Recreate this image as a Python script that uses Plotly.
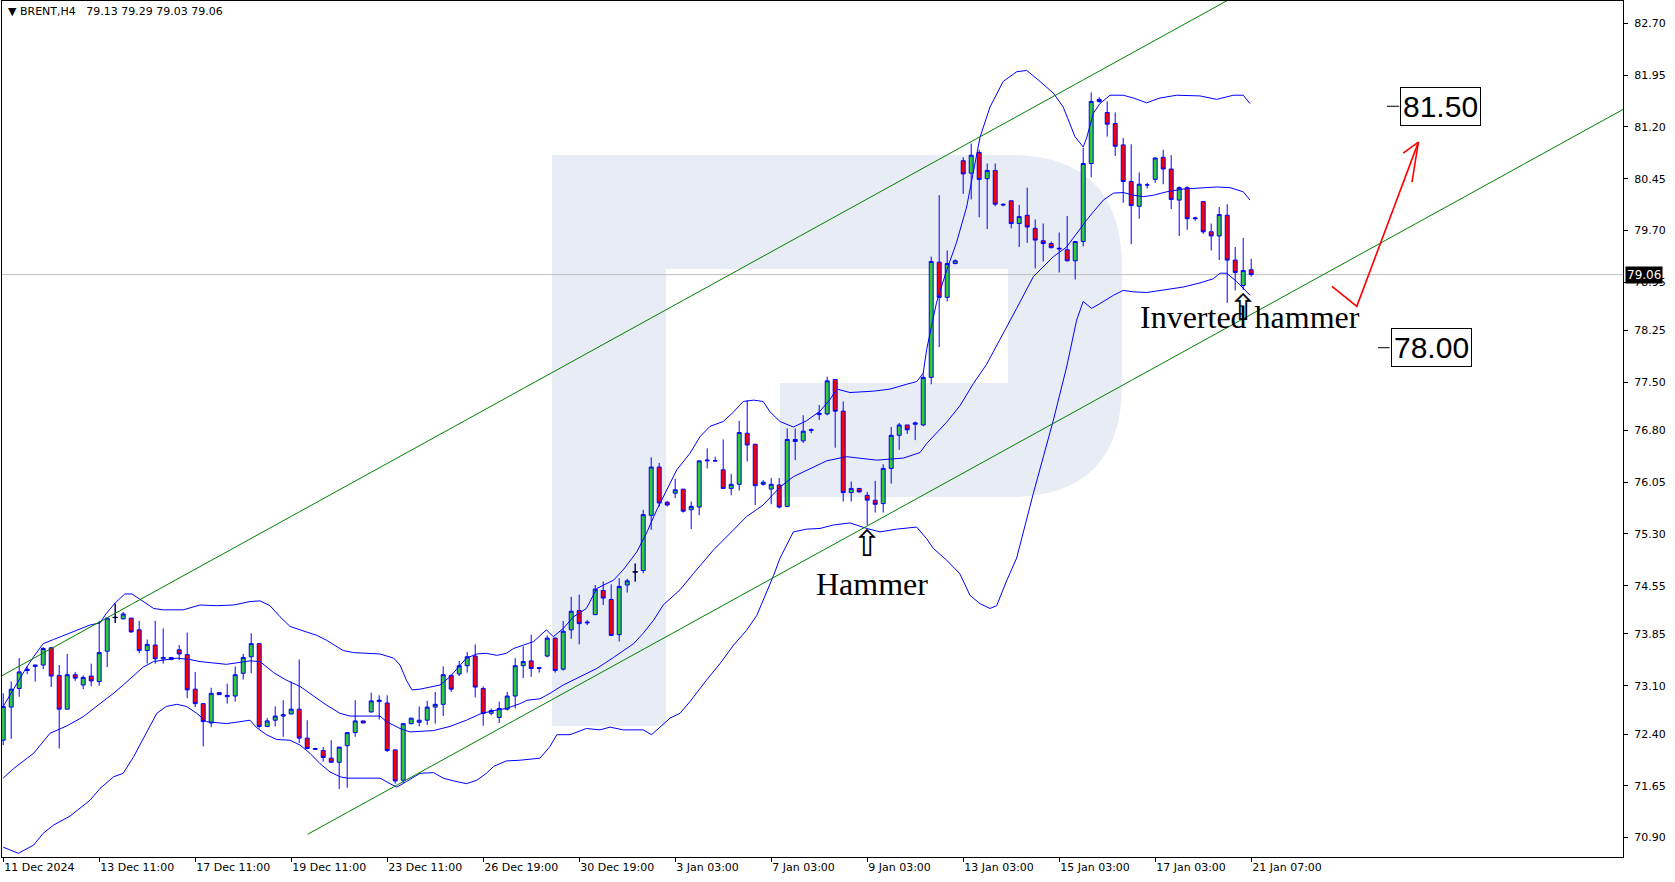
import plotly.graph_objects as go

# ---------------- data (BRENT, H4) ----------------
opens = [72.31, 72.79, 73.06, 73.32, 73.38, 73.40, 73.65, 73.25, 72.76, 73.26,
         73.11, 73.24, 73.16, 73.60, 74.09, 74.07, 74.08, 73.91, 73.61, 73.69,
         73.49, 73.51, 73.62, 73.55, 73.05, 72.84, 72.56, 73.00, 72.94, 72.95,
         73.28, 73.52, 73.71, 72.51, 72.60, 72.66, 72.69, 72.76, 72.34, 72.19,
         72.16, 72.05, 71.99, 72.23, 72.42, 72.59, 72.72, 72.87, 72.85, 72.17,
         71.73, 72.55, 72.57, 72.60, 72.79, 72.83, 73.25, 73.27, 73.39, 73.53,
         73.06, 72.70, 72.64, 72.76, 72.95, 73.39, 73.46, 73.35, 73.53, 73.79,
         73.34, 73.91, 74.19, 74.01, 74.13, 74.48, 74.35, 73.84, 74.56, 74.75,
         74.77, 75.57, 76.27, 75.76, 75.89, 75.95, 75.65, 75.69, 76.36, 76.36,
         76.23, 75.96, 76.02, 76.76, 76.60, 76.02, 75.95, 76.01, 75.70, 76.67,
         76.65, 76.80, 77.03, 77.04, 77.54, 77.08, 75.90, 75.96, 75.86, 75.79,
         75.74, 76.25, 76.73, 76.88, 76.89, 76.88, 77.57, 79.24, 78.73, 79.22,
         80.71, 80.53, 80.83, 80.45, 80.57, 80.08, 80.13, 79.80, 79.92, 79.73,
         79.55, 79.51, 79.43, 79.42, 79.26, 79.54, 80.67, 81.57, 81.41, 81.25,
         80.94, 80.41, 80.05, 80.36, 80.44, 80.76, 80.59, 80.14, 80.32, 79.87,
         80.12, 79.68, 79.62, 79.92, 79.27, 78.90, 79.13]
highs = [72.99, 73.16, 73.50, 73.38, 73.40, 73.66, 73.66, 73.40, 73.56, 73.30,
         73.25, 73.42, 74.04, 74.08, 74.29, 74.17, 74.08, 74.04, 73.77, 74.04,
         73.93, 73.51, 73.69, 73.87, 73.30, 72.84, 73.07, 73.00, 73.13, 73.38,
         73.56, 73.86, 73.71, 72.63, 72.80, 72.89, 73.16, 73.48, 72.60, 72.20,
         72.21, 72.31, 72.21, 72.42, 72.89, 72.59, 73.00, 72.96, 72.96, 72.17,
         72.56, 72.63, 72.80, 72.88, 73.01, 73.38, 73.26, 73.46, 73.59, 73.70,
         73.09, 72.77, 72.87, 73.01, 73.50, 73.67, 73.84, 73.36, 73.83, 73.80,
         74.04, 74.39, 74.42, 74.05, 74.56, 74.61, 74.57, 74.66, 74.65, 74.87,
         75.65, 76.41, 76.33, 75.78, 76.10, 75.95, 75.77, 76.36, 76.54, 76.42,
         76.67, 76.17, 76.94, 77.24, 76.60, 76.08, 76.11, 76.11, 76.83, 76.83,
         77.02, 76.83, 77.17, 77.58, 77.54, 77.22, 76.06, 75.96, 75.91, 76.07,
         76.31, 76.85, 76.91, 76.88, 76.93, 77.63, 79.32, 80.21, 79.41, 79.28,
         80.76, 80.96, 80.87, 80.67, 80.67, 80.09, 80.13, 80.07, 80.32, 79.86,
         79.80, 79.54, 79.67, 79.91, 79.54, 80.90, 81.70, 81.63, 81.57, 81.41,
         81.04, 80.95, 80.54, 80.39, 80.76, 80.87, 80.79, 80.34, 80.34, 79.90,
         80.12, 79.80, 80.04, 80.08, 79.46, 79.59, 79.29]
lows = [72.24, 72.33, 72.94, 73.27, 73.16, 73.34, 73.08, 72.19, 72.76, 73.17,
        73.05, 73.09, 73.10, 73.37, 74.01, 74.06, 73.87, 73.57, 73.42, 73.42,
        73.42, 73.47, 73.47, 72.92, 72.79, 72.22, 72.50, 72.97, 72.84, 72.87,
        73.19, 73.28, 72.48, 72.50, 72.51, 72.36, 72.69, 72.27, 72.18, 72.17,
        72.00, 71.99, 71.60, 71.62, 72.36, 72.56, 72.71, 72.61, 72.14, 71.68,
        71.69, 72.54, 72.51, 72.53, 72.55, 72.66, 73.01, 73.24, 73.29, 72.93,
        72.52, 72.67, 72.56, 72.74, 72.77, 73.21, 73.23, 73.29, 73.51, 73.29,
        73.32, 73.78, 73.70, 73.98, 74.13, 74.27, 73.82, 73.74, 74.45, 74.61,
        74.73, 75.36, 75.70, 75.70, 75.82, 75.61, 75.37, 75.57, 76.25, 76.35,
        75.96, 75.86, 75.93, 76.35, 75.72, 76.00, 75.73, 75.67, 75.69, 76.37,
        76.62, 76.76, 76.95, 77.02, 76.55, 75.77, 75.77, 75.90, 75.43, 75.61,
        75.61, 76.03, 76.52, 76.75, 76.66, 76.86, 77.47, 78.01, 78.67, 79.21,
        80.23, 80.15, 79.89, 79.72, 80.05, 80.05, 79.73, 79.46, 79.52, 79.15,
        79.25, 79.44, 79.09, 79.25, 78.99, 79.47, 80.47, 81.55, 81.06, 80.78,
        80.10, 79.50, 79.87, 80.31, 80.39, 80.37, 80.01, 79.62, 79.71, 79.84,
        79.65, 79.41, 79.27, 78.65, 78.83, 78.84, 79.03]
closes = [72.80, 73.05, 73.30, 73.34, 73.40, 73.64, 73.24, 72.76, 73.26, 73.21,
          73.22, 73.17, 73.58, 74.08, 74.09, 74.14, 73.88, 73.61, 73.70, 73.49,
          73.51, 73.48, 73.56, 73.04, 72.84, 72.58, 72.99, 72.97, 72.96, 73.26,
          73.51, 73.71, 72.51, 72.59, 72.66, 72.68, 72.76, 72.34, 72.19, 72.18,
          72.06, 71.99, 72.21, 72.42, 72.59, 72.56, 72.88, 72.89, 72.16, 71.72,
          72.55, 72.63, 72.60, 72.79, 72.83, 73.26, 73.05, 73.39, 73.52, 73.08,
          72.70, 72.74, 72.77, 72.95, 73.39, 73.45, 73.35, 73.36, 73.79, 73.32,
          73.89, 74.18, 74.00, 74.02, 74.50, 74.37, 73.83, 74.54, 74.62, 74.75,
          75.58, 76.27, 75.75, 75.72, 75.94, 75.63, 75.70, 76.36, 76.37, 76.36,
          75.96, 76.02, 76.77, 76.59, 76.00, 76.05, 76.02, 75.69, 76.67, 76.64,
          76.79, 76.81, 77.05, 77.52, 77.08, 75.90, 75.96, 75.91, 75.79, 75.73,
          76.25, 76.73, 76.88, 76.81, 76.91, 77.57, 79.25, 78.73, 79.22, 79.26,
          80.52, 80.79, 80.44, 80.57, 80.08, 80.07, 79.80, 79.90, 79.75, 79.56,
          79.51, 79.45, 79.44, 79.26, 79.54, 80.67, 81.57, 81.60, 81.24, 80.92,
          80.41, 80.06, 80.37, 80.36, 80.75, 80.59, 80.15, 80.32, 79.87, 79.88,
          79.68, 79.62, 79.93, 79.27, 79.09, 79.12, 79.06]
bar_index = list(range(len(closes)))
doji_bars = [14, 79]

# Bollinger bands: (bar, price)
upper_band = [(0, 72.80), (1.3, 73.06), (3, 73.38), (3.8, 73.52), (5, 73.71), (6.3, 73.77),
              (8.35, 73.86), (10.85, 73.98), (12.1, 74.01), (12.9, 74.15), (14, 74.30),
              (15.2, 74.43), (16.1, 74.43), (17.1, 74.35), (18.8, 74.22), (20, 74.20),
              (22.5, 74.20), (24.6, 74.27), (26.7, 74.26), (28.8, 74.27), (30.85, 74.32),
              (32.1, 74.33), (33.35, 74.26), (34.6, 74.10), (35.85, 73.96), (37.1, 73.91),
              (39.2, 73.83), (40.4, 73.76), (41.7, 73.67), (42.5, 73.61), (43.8, 73.58),
              (47.1, 73.56), (48.8, 73.50), (49.6, 73.40), (50.4, 73.18), (51.1, 73.04),
              (52.1, 73.05), (53.8, 73.09), (54.6, 73.11), (55.85, 73.23), (57.1, 73.40),
              (57.9, 73.50), (59.2, 73.56), (60.4, 73.57), (61.7, 73.54), (62.9, 73.57),
              (63.8, 73.64), (65, 73.69), (66.3, 73.74), (67.9, 73.91), (68.76, 73.81),
              (70, 73.93), (71.3, 74.10), (72.9, 74.22), (74.2, 74.51), (76.3, 74.63),
              (77.5, 74.78), (79.2, 75.04), (80.4, 75.31), (81.7, 75.65), (82.9, 75.94),
              (84.2, 76.23), (85.85, 76.47), (87.1, 76.71), (88.35, 76.86), (90, 76.93),
              (91.3, 77.07), (92.5, 77.22), (93.8, 77.24), (95, 77.22), (95.85, 77.07),
              (97.1, 76.93), (98.77, 76.85), (100.4, 76.94), (102.1, 77.08), (103.35, 77.25),
              (104.2, 77.40), (105.85, 77.35), (108.77, 77.37), (110.85, 77.40),
              (112.93, 77.47), (114.2, 77.51), (115, 77.63), (115.43, 77.97), (116.05, 78.32),
              (116.68, 78.66), (117.93, 79.12), (119.18, 79.53), (120.43, 80.04),
              (121.27, 80.56), (122.1, 81.05), (123.35, 81.49), (125, 81.86), (126.68, 82.00),
              (127.93, 82.02), (129.6, 81.86), (131.27, 81.69), (132.5, 81.49), (133.35, 81.25),
              (133.97, 81.06), (135, 80.91), (135.43, 81.04), (136.27, 81.40), (137.1, 81.54),
              (138.35, 81.66), (140, 81.66), (141.27, 81.62), (142.93, 81.55), (144.6, 81.62),
              (146.68, 81.66), (149.6, 81.65), (151.68, 81.60), (153.77, 81.66), (155, 81.66),
              (155.85, 81.54)]
middle_band = [(0, 71.76), (1.3, 71.90), (3.8, 72.12), (5.85, 72.41), (8, 72.52), (10, 72.65),
               (12.1, 72.84), (13.8, 72.99), (15, 73.11), (16.3, 73.25), (17.5, 73.37),
               (18.8, 73.45), (20, 73.47), (21.7, 73.50), (23.3, 73.48), (24.6, 73.45),
               (27.9, 73.41), (30.85, 73.46), (32.1, 73.45), (33.8, 73.29), (35.4, 73.18),
               (37.1, 73.09), (38.8, 72.95), (40.4, 72.82), (42.1, 72.70), (43.35, 72.66),
               (47.1, 72.66), (47.9, 72.58), (49.6, 72.48), (50.85, 72.43), (53.8, 72.45),
               (55.85, 72.51), (57.9, 72.60), (59.6, 72.69), (61.3, 72.74), (62.9, 72.77),
               (64.6, 72.84), (65.5, 72.89), (67.1, 72.91), (68.35, 72.99), (70, 73.11),
               (72.1, 73.23), (74.2, 73.35), (76.3, 73.51), (78.8, 73.71), (80, 73.86),
               (81.3, 74.05), (82.5, 74.27), (84.6, 74.49), (86.3, 74.73), (88.8, 75.07),
               (91.3, 75.36), (92.9, 75.55), (95, 75.72), (97.1, 75.98), (98.77, 76.13),
               (100.43, 76.22), (102.93, 76.36), (105.43, 76.42), (109.18, 76.37),
               (112.52, 76.40), (114.6, 76.48), (115.43, 76.61), (117.93, 76.92),
               (119.6, 77.16), (121.27, 77.48), (122.93, 77.76), (124.6, 78.13),
               (126.68, 78.57), (128.77, 79.03), (130, 79.17), (131.27, 79.32), (132.93, 79.46),
               (134.18, 79.66), (135.43, 79.85), (136.27, 79.97), (137.52, 80.14),
               (138.77, 80.24), (140, 80.25), (141.27, 80.21), (142.52, 80.19), (143.77, 80.21),
               (145.43, 80.26), (147.52, 80.30), (149.6, 80.31), (151.68, 80.33),
               (153.35, 80.32), (155, 80.26), (155.85, 80.14)]
lower_band = [(0, 70.76), (1.9, 70.67), (3.8, 70.79), (5, 70.96), (6.3, 71.08), (8.35, 71.21),
              (10.85, 71.44), (12.1, 71.61), (13.8, 71.78), (15, 71.83), (16.3, 72.07),
              (17.9, 72.41), (19.2, 72.70), (20.4, 72.80), (21.7, 72.83), (22.9, 72.80),
              (24.2, 72.70), (25.4, 72.58), (27.9, 72.55), (30.85, 72.60), (31.7, 72.49),
              (32.9, 72.39), (34.2, 72.32), (35.85, 72.31), (37.1, 72.24), (38.35, 72.12),
              (39.6, 71.97), (40.85, 71.85), (42.1, 71.78), (43, 71.76), (47.1, 71.76),
              (48.35, 71.68), (49.2, 71.63), (50.4, 71.71), (52.1, 71.83), (53.8, 71.84),
              (55, 71.76), (56.3, 71.72), (57.9, 71.68), (59.2, 71.73), (60.4, 71.83),
              (61.3, 71.93), (62.9, 72.01), (64.6, 72.02), (67.1, 72.05), (68.35, 72.22),
              (69.2, 72.39), (70.85, 72.39), (72.9, 72.48), (74.6, 72.46), (75.85, 72.50),
              (77.5, 72.46), (80, 72.46), (81.05, 72.39), (83.35, 72.63), (84.6, 72.70),
              (85.85, 72.87), (87.9, 73.18), (89.6, 73.42), (91.3, 73.69), (92.9, 73.90),
              (94.2, 74.12), (95.4, 74.45), (96.3, 74.70), (97.1, 74.95), (98.77, 75.33),
              (100.43, 75.37), (102.1, 75.38), (103.77, 75.43), (105.85, 75.46),
              (107.93, 75.38), (109.6, 75.33), (111.68, 75.37), (114.18, 75.40),
              (115.43, 75.23), (116.27, 75.09), (117.93, 74.92), (119.6, 74.72),
              (120.85, 74.41), (122.1, 74.29), (123.35, 74.22), (124.18, 74.26),
              (125.43, 74.62), (126.68, 74.95), (128.77, 75.89), (131.27, 76.95),
              (132.93, 77.72), (134.18, 78.40), (135, 78.67), (136.05, 78.57), (137.1, 78.64),
              (138.77, 78.76), (140, 78.83), (141.27, 78.81), (142.93, 78.80), (145.43, 78.84),
              (147.52, 78.88), (149.6, 78.94), (151.27, 79.00), (152.1, 79.08),
              (152.93, 79.08), (154.18, 78.96), (155, 78.86), (155.85, 78.76)]

# trend channel (bar, price) end points
channel_upper = [(-2, 73.127), (155, 83.16)]
channel_lower = [(38.05, 70.946), (202.5, 81.455)]

# forecast arrow (bar, price)
forecast_path = [(166.1, 78.89), (169.2, 78.60), (176.9, 80.98)]
forecast_head = [(175.0, 80.82), (176.9, 80.98), (176.1, 80.40)]

# price level labels
level_values = [81.50, 78.00]
level_text = ["81.50", "78.00"]
level_box_bar = [179.7, 178.5]
level_tick_from = [172.97, 171.85]
level_tick_to = [174.5, 173.3]

# candle pattern marks
pattern_names = ["Hammer", "Inverted hammer"]
pattern_text_bar = [108.6, 155.9]
pattern_text_price = [74.575, 78.445]
pattern_arrow_bar = [108, 155]
pattern_arrow_price = [75.155, 78.583]

x_tick_bars = [0, 12, 24, 36, 48, 60, 72, 84, 96, 108, 120, 132, 144, 156]
x_tick_labels = ["11 Dec 2024", "13 Dec 11:00", "17 Dec 11:00", "19 Dec 11:00",
                 "23 Dec 11:00", "26 Dec 19:00", "30 Dec 19:00", "3 Jan 03:00",
                 "7 Jan 03:00", "9 Jan 03:00", "13 Jan 03:00", "15 Jan 03:00",
                 "17 Jan 03:00", "21 Jan 07:00"]
y_tick_values = [82.70, 81.95, 81.20, 80.45, 79.70, 78.95, 78.25, 77.50, 76.80,
                 76.05, 75.30, 74.55, 73.85, 73.10, 72.40, 71.65, 70.90]
y_tick_labels = ["%.2f" % v for v in y_tick_values]

last_price = 79.06
header_text = "\u25bc BRENT,H4\u00a0\u00a0 79.13 79.29 79.03 79.06"

# ---------------- figure ----------------
W, H = 1675, 882
ML, MR, MT, MB = 2, 52, 1, 25
PW, PH = W - ML - MR, H - MT - MB


def px2paper(x, y):
    return (x - ML) / PW, 1 - (y - MT) / PH


BLUE = "#0000ff"
fig = go.Figure()

# Candles
fig.add_trace(go.Candlestick(
    x=bar_index, open=opens, high=highs, low=lows, close=closes,
    increasing=dict(line=dict(color=BLUE, width=1), fillcolor="#32cd32"),
    decreasing=dict(line=dict(color=BLUE, width=1), fillcolor="#ff0000"),
    whiskerwidth=0, hoverinfo="skip", showlegend=False))

# Black doji crosses
dx, dy = [], []
for b in doji_bars:
    dx += [b, b, None, b - 0.35, b + 0.35, None]
    dy += [highs[b], lows[b], None, opens[b], opens[b], None]
fig.add_trace(go.Scatter(x=dx, y=dy, mode="lines", line=dict(color="black", width=1),
                         hoverinfo="skip", showlegend=False))

# Bollinger bands
for band in (upper_band, middle_band, lower_band):
    bx, by = zip(*band)
    fig.add_trace(go.Scatter(x=bx, y=by, mode="lines", line=dict(color=BLUE, width=1),
                             hoverinfo="skip", showlegend=False))

# Channel
for ch in (channel_upper, channel_lower):
    cx, cy = zip(*ch)
    fig.add_trace(go.Scatter(x=cx, y=cy, mode="lines", line=dict(color="#008000", width=1),
                             hoverinfo="skip", showlegend=False))

# Forecast arrow
for seg in (forecast_path, forecast_head):
    fx, fy = zip(*seg)
    fig.add_trace(go.Scatter(x=fx, y=fy, mode="lines", line=dict(color="#ff0000", width=1.6),
                             hoverinfo="skip", showlegend=False))

# Level ticks
for v, a, b in zip(level_values, level_tick_from, level_tick_to):
    fig.add_trace(go.Scatter(x=[a, b], y=[v, v], mode="lines", line=dict(color="black", width=1),
                             hoverinfo="skip", showlegend=False))

# ---- watermark (decoration, paper coordinates from pixel layout) ----
WM = "#e8ecf4"
shapes = []


def rect(x0, y0, x1, y1, color):
    a0, b0 = px2paper(x0, y0)
    a1, b1 = px2paper(x1, y1)
    return dict(type="rect", xref="paper", yref="paper", x0=a0, y0=b1, x1=a1, y1=b0,
                fillcolor=color, line=dict(width=0), layer="below")


def path(points, color):
    d = ""
    for cmd, pts in points:
        d += cmd
        d += " ".join("%.5f,%.5f" % px2paper(x, y) for x, y in pts) + " "
    return dict(type="path", xref="paper", yref="paper", path=d + "Z",
                fillcolor=color, line=dict(width=0), layer="below")


shapes.append(path([("M", [(552, 155)]), ("L", [(1009, 155)]), ("Q", [(1122, 155), (1122, 268)]),
                    ("L", [(1122, 384)]), ("Q", [(1122, 497), (1009, 497)]), ("L", [(552, 497)])], WM))
shapes.append(rect(666, 269, 1008, 383, "white"))
shapes.append(rect(666, 383, 780, 497, "white"))
shapes.append(rect(552, 155, 666, 726, WM))
shapes.append(path([("M", [(780, 613)]), ("L", [(967, 613), (1063, 726), (780, 726)])], WM))
# last price line
shapes.append(dict(type="line", xref="paper", yref="y", x0=0, x1=1, y0=last_price, y1=last_price,
                   line=dict(color="#c0c0c0", width=1), layer="below"))

annotations = []
annotations.append(dict(xref="paper", yref="paper", x=px2paper(6, 0)[0], y=px2paper(0, 12)[1],
                        xanchor="left", yanchor="middle", showarrow=False, text=header_text,
                        font=dict(family="DejaVu Sans", size=11, color="black")))
annotations.append(dict(xref="paper", yref="y", x=1, y=last_price, xanchor="left", yanchor="middle",
                        xshift=2, showarrow=False, text="%.2f" % last_price, bgcolor="black",
                        borderpad=1, font=dict(family="DejaVu Sans", size=12, color="white")))
for t, b, v in zip(level_text, level_box_bar, level_values):
    annotations.append(dict(xref="x", yref="y", x=b, y=v, showarrow=False, text=t,
                            bgcolor="white", bordercolor="black", borderwidth=1, borderpad=2,
                            font=dict(family="Liberation Sans", size=30, color="black")))
for t, b, v in zip(pattern_names, pattern_text_bar, pattern_text_price):
    annotations.append(dict(xref="x", yref="y", x=b, y=v, showarrow=False, text=t,
                            font=dict(family="Liberation Serif", size=32, color="black")))
for b, v in zip(pattern_arrow_bar, pattern_arrow_price):
    annotations.append(dict(xref="x", yref="y", x=b, y=v, showarrow=False, text="\u21e7",
                            font=dict(family="DejaVu Sans", size=36, color="black")))

axis_font = dict(family="DejaVu Sans", size=11, color="black")
fig.update_layout(
    width=W, height=H, margin=dict(l=ML, r=MR, t=MT, b=MB),
    paper_bgcolor="white", plot_bgcolor="white", showlegend=False, hovermode=False,
    shapes=shapes, annotations=annotations,
    xaxis=dict(range=[-0.15, (W - MR - 3.2) / 8], showgrid=False, zeroline=False,
               showline=True, linecolor="black", linewidth=1, mirror=True,
               ticks="outside", ticklen=4, tickcolor="black",
               tickvals=x_tick_bars, ticktext=x_tick_labels,
               ticklabelposition="outside right", tickfont=axis_font,
               rangeslider=dict(visible=False), fixedrange=True),
    yaxis=dict(side="right", range=[70.617, 83.026], showgrid=False, zeroline=False,
               showline=True, linecolor="black", linewidth=1, mirror=True,
               ticks="outside", ticklen=4, tickcolor="black", ticklabelstandoff=4,
               tickvals=y_tick_values, ticktext=y_tick_labels, tickfont=axis_font,
               fixedrange=True),
)

fig.write_html("out.html", config={"displayModeBar": False},
               post_script="document.body.style.margin='0px';document.body.style.overflow='hidden';")
